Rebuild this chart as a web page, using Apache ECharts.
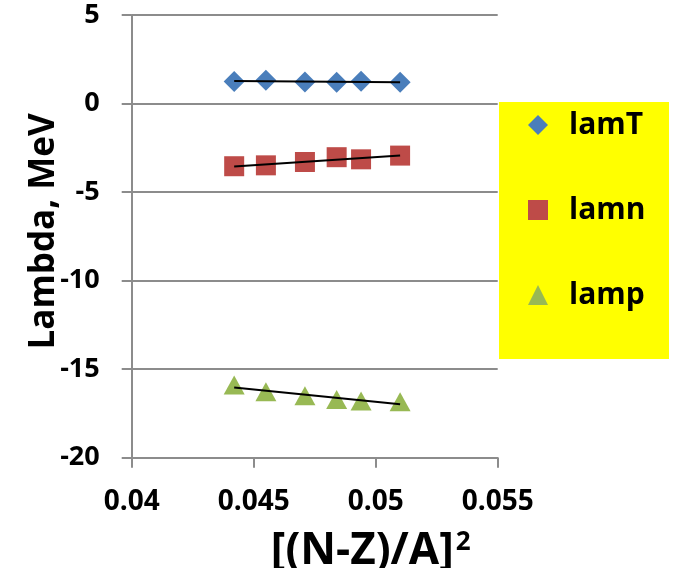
<!DOCTYPE html>
<html>
<head>
<meta charset="utf-8">
<style>
  html, body { margin: 0; padding: 0; background: #fff; }
  #chart { width: 679px; height: 568px; }
</style>
<script src="https://cdn.jsdelivr.net/npm/echarts@6/dist/echarts.min.js"></script>
</head>
<body>
<div id="chart"></div>
<script>
// Isovector term squared, [(N-Z)/A]^2
const asym = [0.0442, 0.0455, 0.0471, 0.0484, 0.0494, 0.0510];
// Lambda parameters, MeV
const lamT = [1.25, 1.32, 1.22, 1.20, 1.26, 1.20];
const lamn = [-3.54, -3.49, -3.30, -3.03, -3.15, -2.94];
const lamp = [-15.90, -16.27, -16.50, -16.72, -16.80, -16.84];

const seriesNames = ['lamT', 'lamn', 'lamp'];
const seriesValues = [lamT, lamn, lamp];
const colors = ['#4A7EBB', '#BE4B48', '#98B954'];
const symbols = ['diamond', 'rect', 'triangle'];
const xTicks = { min: 0.04, max: 0.055, step: 0.005 };
const yTicks = { min: -20, max: 5, step: 5 };

// Least-squares straight line through one series, spanning the data's x range
function trendline(xs, ys) {
  const n = xs.length;
  const mx = xs.reduce((a, b) => a + b, 0) / n;
  const my = ys.reduce((a, b) => a + b, 0) / n;
  let sxy = 0, sxx = 0;
  for (let i = 0; i < n; i++) {
    sxy += (xs[i] - mx) * (ys[i] - my);
    sxx += (xs[i] - mx) * (xs[i] - mx);
  }
  const k = sxy / sxx;
  const x0 = Math.min(...xs), x1 = Math.max(...xs);
  return [[x0, my + k * (x0 - mx)], [x1, my + k * (x1 - mx)]];
}

const FONT = 'Open Sans';
const gridColor = '#8c8c8c';

const series = [];
seriesNames.forEach((name, i) => {
  series.push({
    name: name,
    type: 'scatter',
    symbol: symbols[i],
    symbolSize: symbols[i] === 'triangle' ? [21, 19] : (symbols[i] === 'rect' ? 20 : [21, 21]),
    itemStyle: { color: colors[i], opacity: 1 },
    data: asym.map((x, j) => [x, seriesValues[i][j]]),
    z: 3
  });
});
seriesNames.forEach((name, i) => {
  series.push({
    name: name + ' trend',
    type: 'line',
    data: trendline(asym, seriesValues[i]),
    showSymbol: false,
    symbol: 'none',
    lineStyle: { color: '#000', width: 2 },
    silent: true,
    z: 4
  });
});

const chart = echarts.init(document.getElementById('chart'), null, { renderer: 'canvas' });
chart.setOption({
  animation: false,
  backgroundColor: '#ffffff',
  grid: { left: 131.7, right: 181.3, top: 15, bottom: 110.3, containLabel: false, outerBoundsMode: 'none' },
  graphic: [{
    type: 'rect',
    left: 499, top: 102,
    shape: { width: 170, height: 257 },
    style: { fill: '#FFFF00' },
    z: 0
  }],
  legend: {
    data: seriesNames,
    orient: 'vertical',
    left: 523, top: 105,
    itemWidth: 20, itemHeight: 20,
    symbolKeepAspect: true,
    itemGap: 55,
    textStyle: { fontFamily: FONT, fontWeight: 'bold', fontSize: 30, color: '#000', lineHeight: 20, padding: [0, 0, 0, 16] },
    z: 5
  },
  xAxis: {
    type: 'value',
    min: xTicks.min, max: xTicks.max, interval: xTicks.step,
    name: '[(N-Z)/A]{sup|2}',
    nameLocation: 'middle',
    nameGap: 72,
    nameTextStyle: {
      fontFamily: FONT, fontWeight: 'bold', fontSize: 44, color: '#000',
      padding: [0, 0, 0, 112],
      rich: { sup: { fontFamily: FONT, fontWeight: 'bold', fontSize: 26, color: '#000', verticalAlign: 'top', padding: [0, 0, 16, 2] } }
    },
    axisLine: { show: true, onZero: false, lineStyle: { color: gridColor, width: 2 } },
    axisTick: { show: true, inside: false, length: 10, lineStyle: { color: gridColor, width: 2 } },
    axisLabel: {
      margin: 30,
      fontFamily: FONT, fontWeight: 'bold', fontSize: 28, color: '#000',
      formatter: v => String(+v.toFixed(3))
    },
    splitLine: { show: false }
  },
  yAxis: {
    type: 'value',
    min: yTicks.min, max: yTicks.max, interval: yTicks.step,
    name: 'Lambda, MeV',
    nameLocation: 'middle',
    nameGap: 70,
    nameMoveOverlap: false,
    nameTextStyle: { fontFamily: FONT, fontWeight: 'bold', fontSize: 35, color: '#000', padding: [0, 0, 0, 10] },
    axisLine: { show: true, onZero: false, lineStyle: { color: gridColor, width: 2 } },
    axisTick: { show: true, inside: false, length: 10, lineStyle: { color: gridColor, width: 2 } },
    axisLabel: {
      margin: 32,
      fontFamily: FONT, fontWeight: 'bold', fontSize: 27, color: '#000'
    },
    splitLine: { show: true, lineStyle: { color: gridColor, width: 2 } }
  },
  series: series
});
</script>
</body>
</html>
